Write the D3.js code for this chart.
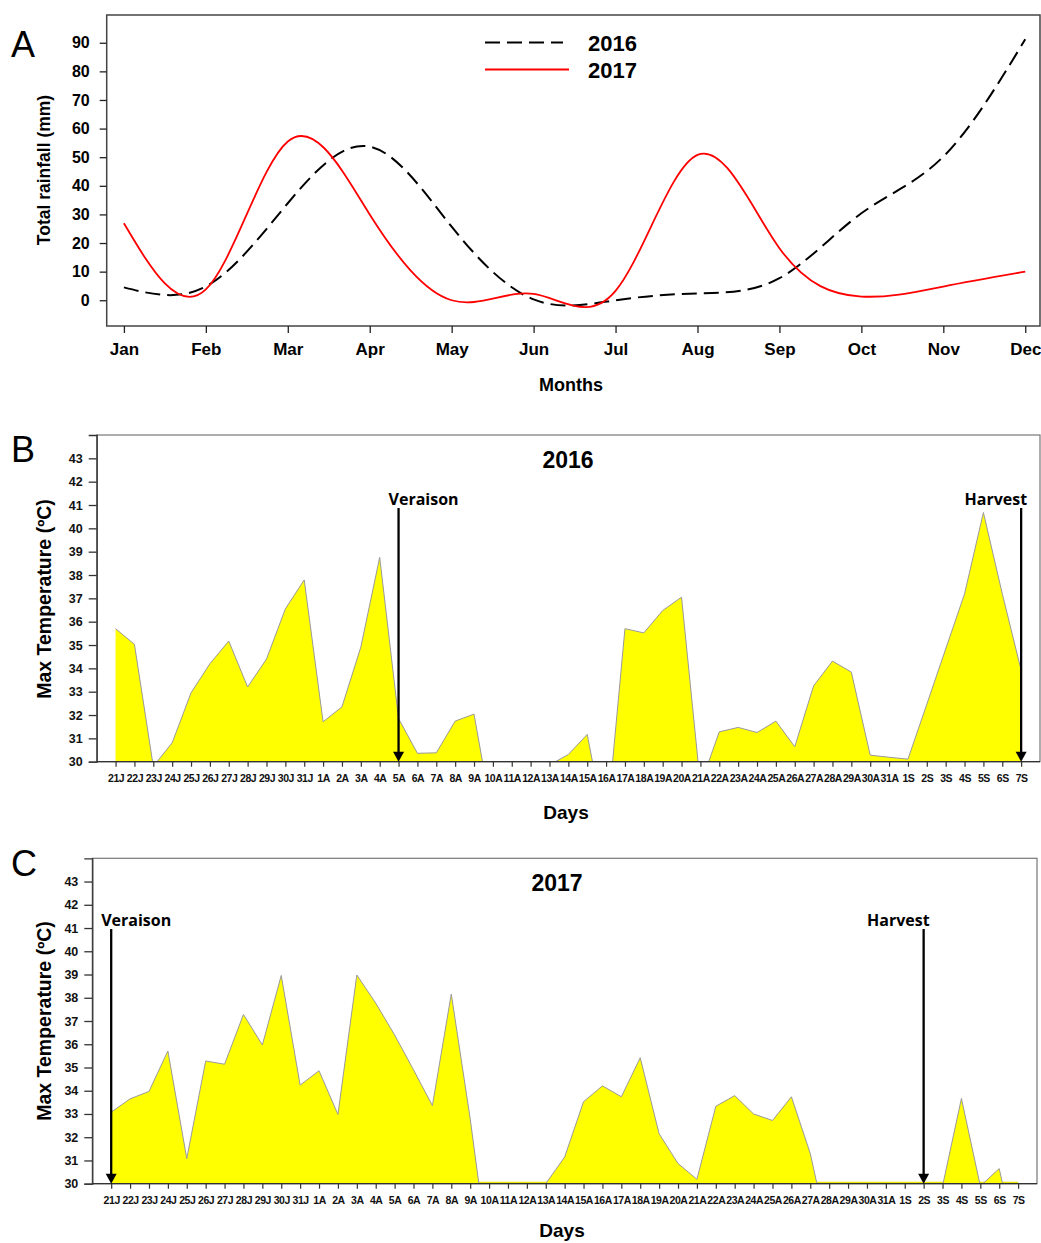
<!DOCTYPE html>
<html lang="en">
<head>
<meta charset="UTF-8">
<title>Rainfall and maximum temperature</title>
<script src="https://d3js.org/d3.v7.min.js"></script>
<style>
  body { margin: 0; background: #fff; }
  svg text { font-family: "Liberation Sans", Arial, sans-serif; fill: #000; }
</style>
</head>
<body>
<svg id="chart" width="1041" height="1243"></svg>
<script>
// ---- data ----
const months = ["Jan", "Feb", "Mar", "Apr", "May", "Jun", "Jul", "Aug", "Sep", "Oct", "Nov", "Dec"];
const rain2016 = [4.5, 4.8, 33.9, 53.7, 25.7, 0.3, 0.0, 2.4, 7.7, 30.4, 50.2, 91.2];
const rain2017 = [26.9, 3.8, 55.5, 30.0, 0.0, 2.2, 3.3, 50.8, 18.2, 1.3, 4.8, 10.0];
const rainTicks = [0, 10, 20, 30, 40, 50, 60, 70, 80, 90];

const days = ["21J", "22J", "23J", "24J", "25J", "26J", "27J", "28J", "29J", "30J", "31J",
  "1A", "2A", "3A", "4A", "5A", "6A", "7A", "8A", "9A", "10A", "11A", "12A", "13A", "14A", "15A",
  "16A", "17A", "18A", "19A", "20A", "21A", "22A", "23A", "24A", "25A", "26A", "27A", "28A",
  "29A", "30A", "31A", "1S", "2S", "3S", "4S", "5S", "6S", "7S"];
const tmax2016 = [35.7, 35.03, 29.8, 30.81, 32.95, 34.2, 35.17, 33.2, 34.4, 36.55, 37.79,
  31.71, 32.35, 34.91, 38.76, 31.85, 30.36, 30.38, 31.74, 32.04, 27.5, 28.0, 28.5, 29.86, 30.31, 31.17,
  27.0, 35.7, 35.52, 36.48, 37.05, 29.0, 31.28, 31.47, 31.25, 31.74, 30.64, 33.25, 34.31,
  33.84, 30.28, 30.19, 30.11, 32.46, 34.83, 37.19, 40.68, 37.2, 33.92];
const tmax2017 = [33.08, 33.65, 33.97, 35.71, 31.08, 35.28, 35.14, 37.28, 35.97, 38.96, 34.24,
  34.86, 32.98, 38.98, 37.77, 36.4, 34.9, 33.36, 38.16, 32.8, 26.7, 27.0, 27.5, 30.0, 31.15, 33.53,
  34.21, 33.74, 35.42, 32.15, 30.87, 30.19, 33.33, 33.79, 33.0, 32.72, 33.74, 31.3, 27.6,
  27.0, 27.0, 27.0, 27.0, 27.0, 29.9, 33.67, 29.9, 30.65, 27.0];
const tempTicks = [30, 31, 32, 33, 34, 35, 36, 37, 38, 39, 40, 41, 42, 43];

const events2016 = [{ day: "5A", label: "Veraison", side: "right" }, { day: "7S", label: "Harvest", side: "left" }];
const events2017 = [{ day: "21J", label: "Veraison", side: "right" }, { day: "2S", label: "Harvest", side: "left" }];

const svg = d3.select("#chart");

function panelLetter(txt, x, y) {
  svg.append("text").attr("x", x).attr("y", y)
    .style("font-size", "36px").text(txt);
}

// ---- Panel A: total rainfall ----
const A = { left: 106.7, right: 1040, top: 15, bottom: 326 };
const xA = d3.scaleLinear().domain([0.79, 12.18]).range([A.left, A.right]);
const yA = d3.scaleLinear().domain([-9, 99.7]).range([A.bottom, A.top]);

panelLetter("A", 11, 57);

svg.append("rect")
  .attr("x", A.left).attr("y", A.top)
  .attr("width", A.right - A.left).attr("height", A.bottom - A.top)
  .attr("fill", "none").attr("stroke", "#444").attr("stroke-width", 1.5);

svg.append("g")
  .attr("transform", `translate(${A.left},0)`)
  .call(d3.axisLeft(yA).tickValues(rainTicks).tickSize(7).tickPadding(10))
  .call(g => g.select(".domain").remove())
  .call(g => g.selectAll("line").attr("stroke", "#222").attr("stroke-width", 1.3))
  .call(g => g.selectAll("text").style("font-size", "16px").style("font-weight", "bold"));

svg.append("g")
  .attr("transform", `translate(0,${A.bottom})`)
  .call(d3.axisBottom(xA).tickValues(d3.range(1, 13)).tickFormat(m => months[m - 1]).tickSize(7).tickPadding(10))
  .call(g => g.select(".domain").remove())
  .call(g => g.selectAll("line").attr("stroke", "#222").attr("stroke-width", 1.3))
  .call(g => g.selectAll("text").style("font-size", "17px").style("font-weight", "bold"));

const rainLine = d3.line().x((d, i) => xA(i + 1)).y(d => yA(d)).curve(d3.curveNatural);

svg.append("path").datum(rain2016)
  .attr("d", rainLine).attr("fill", "none")
  .attr("stroke", "#000").attr("stroke-width", 2).attr("stroke-dasharray", "15,7");
svg.append("path").datum(rain2017)
  .attr("d", rainLine).attr("fill", "none")
  .attr("stroke", "#ff0000").attr("stroke-width", 1.8);

// legend
const legend = svg.append("g").attr("transform", "translate(485,0)");
legend.append("line").attr("x1", 0).attr("x2", 78).attr("y1", 42.5).attr("y2", 42.5)
  .attr("stroke", "#000").attr("stroke-width", 2).attr("stroke-dasharray", "15,7");
legend.append("line").attr("x1", 0).attr("x2", 84).attr("y1", 69.5).attr("y2", 69.5)
  .attr("stroke", "#ff0000").attr("stroke-width", 1.8);
legend.append("text").attr("x", 103).attr("y", 50.5)
  .style("font-size", "22px").style("font-weight", "bold").text("2016");
legend.append("text").attr("x", 103).attr("y", 77.5)
  .style("font-size", "22px").style("font-weight", "bold").text("2017");

svg.append("text")
  .attr("transform", "translate(50,170)rotate(-90)")
  .attr("text-anchor", "middle")
  .style("font-size", "17.5px").style("font-weight", "bold")
  .text("Total rainfall (mm)");
svg.append("text").attr("x", 571).attr("y", 391).attr("text-anchor", "middle")
  .style("font-size", "18px").style("font-weight", "bold").text("Months");

// ---- Panels B and C: daily max temperature ----
function drawTemp(p) {
  const x = d3.scaleLinear().domain([-1, 49]).range([p.left, p.right]);
  const y = d3.scaleLinear().domain([30, 44]).range([p.bottom, p.top]);
  const g = svg.append("g");

  panelLetter(p.letter, 11, p.letterY);

  g.append("clipPath").attr("id", p.id + "-clip")
    .append("rect")
    .attr("x", p.left).attr("y", p.top)
    .attr("width", p.right - p.left).attr("height", p.bottom - p.top);

  g.append("rect")
    .attr("x", p.left).attr("y", p.top)
    .attr("width", p.right - p.left).attr("height", p.bottom - p.top)
    .attr("fill", "none").attr("stroke", "#777").attr("stroke-width", 1.2);

  // clipped (below 30) days show as a thin yellow band on the axis in C
  if (p.baseStrip) {
    g.append("line")
      .attr("x1", x(0)).attr("x2", x(days.length - 1))
      .attr("y1", y(30) - 1).attr("y2", y(30) - 1)
      .attr("stroke", "#e8e800").attr("stroke-width", 2);
  }

  const plot = g.append("g").attr("clip-path", `url(#${p.id}-clip)`);
  plot.append("path").datum(p.values)
    .attr("d", d3.area().x((d, i) => x(i)).y0(y(30)).y1(d => y(d)))
    .attr("fill", "#ffff00");
  plot.append("path").datum(p.values)
    .attr("d", d3.line().x((d, i) => x(i)).y(d => y(d)))
    .attr("fill", "none").attr("stroke", "#9a9a9a").attr("stroke-width", 1);

  g.append("g")
    .attr("transform", `translate(${p.left},0)`)
    .call(d3.axisLeft(y).tickValues(tempTicks).tickSize(8).tickPadding(6))
    .call(a => a.select(".domain").attr("stroke", "#333").attr("stroke-width", 1.3))
    .call(a => a.selectAll("line").attr("stroke", "#333").attr("stroke-width", 1.3))
    .call(a => a.selectAll("text").style("font-size", "12.5px").style("font-weight", "bold").style("fill", "#111"));

  g.append("g")
    .attr("transform", `translate(0,${p.bottom})`)
    .call(d3.axisBottom(x).tickValues(d3.range(days.length)).tickFormat(i => days[i]).tickSize(5).tickPadding(8))
    .call(a => a.select(".domain").attr("d", `M${p.left},0H${p.right}`).attr("stroke", "#333").attr("stroke-width", 1.3))
    .call(a => a.selectAll("line").attr("stroke", "#333").attr("stroke-width", 1.2))
    .call(a => a.selectAll("text").style("font-size", "10.5px").style("font-weight", "bold")
      .style("letter-spacing", "-0.45px").style("fill", "#111"));

  // event arrows
  p.events.forEach(ev => {
    const ax = x(days.indexOf(ev.day));
    g.append("line")
      .attr("x1", ax).attr("x2", ax)
      .attr("y1", p.arrowTop).attr("y2", y(30) - 9)
      .attr("stroke", "#000").attr("stroke-width", 2.3);
    g.append("path")
      .attr("d", `M${ax - 5.5},${y(30) - 10}L${ax + 5.5},${y(30) - 10}L${ax},${y(30)}Z`)
      .attr("fill", "#000");
    g.append("text")
      .attr("x", ev.side === "right" ? ax - 10 : ax + 6)
      .attr("y", p.arrowTop - 3)
      .attr("text-anchor", ev.side === "right" ? "start" : "end")
      .style("font-family", "'Open Sans', sans-serif")
      .style("font-size", "16px").style("font-weight", "bold")
      .text(ev.label);
  });

  g.append("text").attr("x", p.titleX).attr("y", p.top + 33).attr("text-anchor", "middle")
    .style("font-size", "23px").style("font-weight", "bold").text(p.title);

  g.append("text")
    .attr("transform", `translate(51,${p.labelY})rotate(-90)`)
    .attr("text-anchor", "middle")
    .style("font-size", "19.5px").style("font-weight", "bold")
    .text("Max Temperature (ºC)");

  g.append("text").attr("x", p.daysX).attr("y", p.bottom + p.daysDy).attr("text-anchor", "middle")
    .style("font-size", "19px").style("font-weight", "bold").text("Days");
}

drawTemp({
  id: "b", letter: "B", letterY: 462, title: "2016", titleX: 568,
  left: 96.7, right: 1040, top: 435, bottom: 761.7,
  values: tmax2016, events: events2016, arrowTop: 508, labelY: 599, daysX: 566, daysDy: 57,
  baseStrip: false
});
drawTemp({
  id: "c", letter: "C", letterY: 876, title: "2017", titleX: 557,
  left: 92.3, right: 1037, top: 858.3, bottom: 1183.7,
  values: tmax2017, events: events2017, arrowTop: 929, labelY: 1021, daysX: 562, daysDy: 53,
  baseStrip: true
});
</script>
</body>
</html>
